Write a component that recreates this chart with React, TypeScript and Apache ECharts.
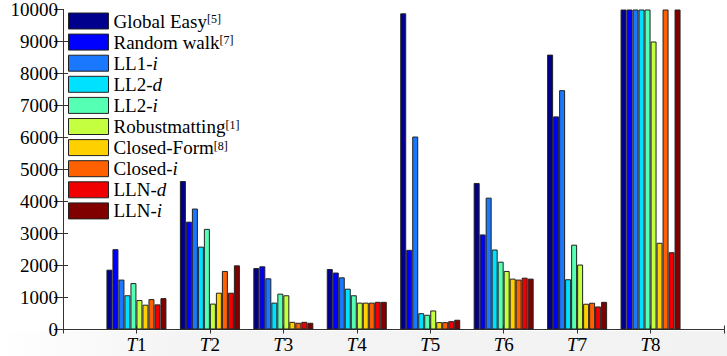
import React, { useEffect, useRef } from "react";
import * as echarts from "echarts";

const categories = ["T1", "T2", "T3", "T4", "T5", "T6", "T7", "T8"];
const seriesNames = [
  "Global Easy",
  "Random walk",
  "LL1-i",
  "LL2-d",
  "LL2-i",
  "Robustmatting",
  "Closed-Form",
  "Closed-i",
  "LLN-d",
  "LLN-i",
];
const legendLabels = [
  "{n|Global Easy}{s|[5]}",
  "{n|Random walk}{s|[7]}",
  "{n|LL1-}{i|i}",
  "{n|LL2-}{i|d}",
  "{n|LL2-}{i|i}",
  "{n|Robustmatting}{s|[1]}",
  "{n|Closed-Form}{s|[8]}",
  "{n|Closed-}{i|i}",
  "{n|LLN-}{i|d}",
  "{n|LLN-}{i|i}",
];
const colors = [
  "#00008c",
  "#0000ff",
  "#1a78ff",
  "#00e0ff",
  "#55ffb4",
  "#c4ff40",
  "#ffd000",
  "#ff6000",
  "#f00000",
  "#800000",
];
// values per series, one per category T1..T8 (T8 bars that exceed the axis are capped at 10000)
const globalEasy = [1870, 4640, 1920, 1890, 9880, 4580, 8590, 10000];
const randomWalk = [2510, 3370, 1975, 1780, 2490, 2970, 6660, 10000];
const ll1i = [1560, 3780, 1600, 1630, 6030, 4120, 7480, 10000];
const ll2d = [1070, 2590, 840, 1275, 510, 2500, 1570, 10000];
const ll2i = [1450, 3145, 1120, 1070, 460, 2120, 2650, 10000];
const robust = [920, 810, 1070, 840, 595, 1830, 2030, 9000];
const closedForm = [775, 1150, 240, 840, 230, 1590, 805, 2710];
const closedI = [950, 1830, 210, 840, 230, 1560, 836, 10000];
const llnD = [785, 1150, 240, 865, 260, 1620, 720, 2415];
const llnI = [980, 2005, 210, 865, 305, 1590, 865, 10000];
const seriesValues = [globalEasy, randomWalk, ll1i, ll2d, ll2i, robust, closedForm, closedI, llnD, llnI];
const yTicks = { min: 0, max: 10000, interval: 1000 };

const FONT = "'Liberation Serif', 'Times New Roman', Times, serif";

export default function App() {
  const ref = useRef<HTMLDivElement>(null);
  useEffect(() => {
    document.body.style.margin = "0";
    const chart = echarts.init(ref.current!, null, { renderer: "svg" });
    const labelMap: Record<string, string> = {};
    seriesNames.forEach((n, i) => (labelMap[n] = legendLabels[i]));
    const axisLine = { show: true, lineStyle: { color: "#333", width: 1 } };
    const option: any = {
      animation: false,
      backgroundColor: "#ffffff",
      textStyle: { fontFamily: FONT },
      grid: { left: 63, top: 9.5, width: 669, height: 320, containLabel: false },
      legend: {
        orient: "vertical",
        left: 68,
        top: 11.5,
        padding: 0,
        itemWidth: 40,
        itemHeight: 16,
        itemGap: 2.1,
        icon: "rect",
        itemStyle: { borderColor: "#222", borderWidth: 1 },
        data: seriesNames,
        formatter: (name: string) => labelMap[name],
        textStyle: {
          fontFamily: FONT,
          fontSize: 19,
          lineHeight: 16,
          color: "#000",
          rich: {
            n: { fontFamily: FONT, fontSize: 19, lineHeight: 16, color: "#000" },
            i: { fontFamily: FONT, fontSize: 19, lineHeight: 16, color: "#000", fontStyle: "italic" },
            s: { fontFamily: FONT, fontSize: 12, lineHeight: 16, color: "#000", verticalAlign: "top" },
          },
        },
      },
      xAxis: [
        {
          type: "value",
          position: "bottom",
          min: 0,
          max: 9,
          interval: 1,
          axisLine,
          splitLine: { show: false },
          axisTick: { show: true, inside: true, length: 4, lineStyle: { color: "#333" } },
          axisLabel: {
            margin: 5,
            formatter: (v: number) => (v >= 1 && v <= categories.length ? `{i|T}{n|${categories[v - 1].slice(1)}}` : ""),
            rich: {
              i: { fontFamily: FONT, fontSize: 19, fontStyle: "italic", color: "#000" },
              n: { fontFamily: FONT, fontSize: 19, color: "#000" },
            },
          },
        },
        {
          type: "value",
          position: "top",
          min: 0,
          max: 9,
          interval: 1,
          axisLine,
          splitLine: { show: false },
          axisTick: { show: true, inside: true, length: 4, lineStyle: { color: "#333" } },
          axisLabel: { show: false },
        },
      ],
      yAxis: [
        {
          type: "value",
          ...yTicks,
          position: "left",
          axisLine,
          splitLine: { show: false },
          axisTick: { show: true, inside: true, length: 5, lineStyle: { color: "#333" } },
          axisLabel: {
            fontFamily: FONT,
            fontSize: 19,
            color: "#000",
            margin: 5,
            formatter: (v: number) => String(v),
          },
        },
        {
          type: "value",
          ...yTicks,
          position: "right",
          axisLine,
          splitLine: { show: false },
          axisTick: { show: true, inside: true, length: 9, lineStyle: { color: "#333" } },
          axisLabel: { show: false },
        },
      ],
      series: seriesNames.map((name, si) => ({
        name,
        type: "bar",
        xAxisIndex: 0,
        yAxisIndex: 0,
        barWidth: 6,
        barGap: "0%",
        clip: true,
        itemStyle: { color: colors[si], borderColor: "#222", borderWidth: 1 },
        data: seriesValues[si].map((v, ci) => [ci + 1, v]),
      })),
      graphic: [
        {
          type: "rect",
          z: 100,
          shape: { x: 64, y: 7, width: 128, height: 5 },
          style: { fill: "#ffffff" },
        },
        {
          type: "rect",
          z: -10,
          silent: true,
          shape: { x: 0, y: 331, width: 727, height: 25 },
          style: {
            fill: new echarts.graphic.LinearGradient(0, 0, 1, 0, [
              { offset: 0, color: "#ffffff" },
              { offset: 0.25, color: "#f4f4f4" },
              { offset: 1, color: "#f2f2f2" },
            ]),
          },
        },
      ],
    };
    chart.setOption(option);
    return () => chart.dispose();
  }, []);
  return <div ref={ref} style={{ position: "fixed", left: 0, top: 0, width: 727, height: 356 }} />;
}
